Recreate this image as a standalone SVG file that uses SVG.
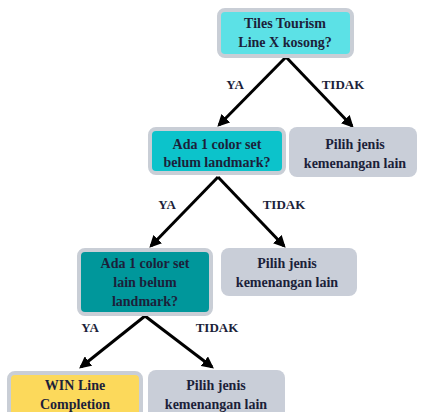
<svg xmlns="http://www.w3.org/2000/svg" width="422" height="412" viewBox="0 0 422 412">
<defs>
<style>
.box{stroke:#c9ced6;stroke-width:4}
.t{font-weight:bold;font-size:14px;fill:#1c1f3a;text-anchor:middle}
.l{font-weight:bold;font-size:13px;fill:#1c1f3a;text-anchor:middle}
.c{stroke:#000;stroke-width:3;fill:none;marker-end:url(#ah)}
</style>
<marker id="ah" viewBox="0 0 10 10" refX="8" refY="5" markerWidth="4" markerHeight="4" orient="auto" markerUnits="strokeWidth">
<path d="M0,0 L10,5 L0,10 z" fill="#000"/>
</marker>
</defs>
<rect width="422" height="412" fill="#fff"/>
<g font-family="'Liberation Serif', 'Times New Roman', Times, serif">
<g id="connectors">
<path class="c" d="M286,57 L219,125"/>
<path class="c" d="M286,57 L352,126"/>
<path class="c" d="M218,177 L151,246"/>
<path class="c" d="M218,177 L284,246"/>
<path class="c" d="M145,316 L81,367"/>
<path class="c" d="M145,316 L212,367"/>
<text class="l" x="235" y="89">YA</text>
<text class="l" x="343" y="89">TIDAK</text>
<text class="l" x="167" y="209">YA</text>
<text class="l" x="284" y="209">TIDAK</text>
<text class="l" x="90" y="332">YA</text>
<text class="l" x="217" y="332">TIDAK</text>
</g>
<g id="n1">
<rect class="box" x="219" y="10" width="133" height="46" rx="6" fill="#5ce1e6"/>
<text class="t" x="285" y="28">Tiles Tourism</text>
<text class="t" x="285" y="47">Line X kosong?</text>
</g>
<g id="n2">
<rect class="box" x="150" y="129" width="134" height="44" rx="6" fill="#0cc3cb"/>
<text class="t" x="217" y="149">Ada 1 color set</text>
<text class="t" x="217" y="167">belum landmark?</text>
</g>
<g id="n3">
<rect x="289" y="127" width="128" height="50" rx="8" fill="#c9ced8"/>
<text class="t" x="355" y="149">Pilih jenis</text>
<text class="t" x="355" y="168">kemenangan lain</text>
</g>
<g id="n4">
<rect class="box" x="79" y="250" width="132" height="64" rx="6" fill="#00979b"/>
<text class="t" x="145" y="268">Ada 1 color set</text>
<text class="t" x="145" y="287">lain belum</text>
<text class="t" x="145" y="306">landmark?</text>
</g>
<g id="n5">
<rect x="221" y="248" width="136" height="48" rx="8" fill="#c9ced8"/>
<text class="t" x="287" y="268">Pilih jenis</text>
<text class="t" x="287" y="287">kemenangan lain</text>
</g>
<g id="n6">
<rect class="box" x="9" y="373" width="132" height="50" rx="6" fill="#fcd95b"/>
<text class="t" x="75" y="390">WIN Line</text>
<text class="t" x="75" y="409">Completion</text>
</g>
<g id="n7">
<rect x="148" y="370" width="137" height="50" rx="8" fill="#c9ced8"/>
<text class="t" x="216" y="390">Pilih jenis</text>
<text class="t" x="216" y="409">kemenangan lain</text>
</g>
</g>
</svg>
